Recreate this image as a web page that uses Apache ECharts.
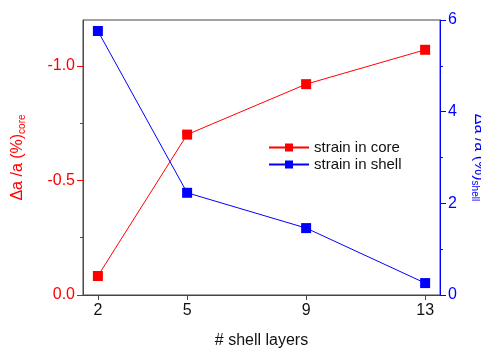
<!DOCTYPE html>
<html><head><meta charset="utf-8">
<script src="https://cdn.jsdelivr.net/npm/echarts@6/dist/echarts.min.js"></script>
<style>html,body{margin:0;padding:0;background:#fff}#c{width:481px;height:352px}</style>
</head><body><div id="c"></div>
<script>
const shellLayers = [2, 5, 9, 13];
const strainCore = [-0.083, -0.70, -0.92, -1.07];
const strainShell = [5.76, 2.23, 1.46, 0.26];
const xTicks = [2, 5, 9, 13];
const coreTicks = [-1.0, -0.5, 0.0];
const coreMinorTicks = [-0.75, -0.25];

const chart = echarts.init(document.getElementById('c'));
const F = 'Liberation Sans, Arial, sans-serif';
chart.setOption({
  animation: false,
  grid: {left: 83, right: 41, top: 20, bottom: 57, show: true, borderColor: '#444', borderWidth: 1,
         containLabel: false, outerBoundsMode: 'none'},
  legend: {
    left: 263, top: 135, orient: 'vertical', itemGap: 2, itemWidth: 40, itemHeight: 10,
    textStyle: {fontFamily: F, fontSize: 15, color: '#111'},
    data: ['strain in core', 'strain in shell']
  },
  xAxis: {
    type: 'value', min: 1.5, max: 13.5,
    name: '# shell layers', nameLocation: 'middle', nameGap: 38,
    nameTextStyle: {fontFamily: F, fontSize: 16, color: '#111'},
    axisLine: {show: true, lineStyle: {color: '#444'}},
    axisTick: {show: true, length: 5, customValues: xTicks, lineStyle: {color: '#444'}},
    axisLabel: {customValues: xTicks, fontFamily: F, fontSize: 16, color: '#111', margin: 8},
    splitLine: {show: false}
  },
  yAxis: [{
    type: 'value', min: -1.2, max: 0, inverse: true, position: 'left',
    name: '{m|Δa /a (%)}{s|core}', nameLocation: 'middle', nameGap: 56,
    nameTextStyle: {color: 'red', rich: {
      m: {fontFamily: F, fontSize: 16, color: 'red'},
      s: {fontFamily: F, fontSize: 10, color: 'red', verticalAlign: 'bottom', padding: [8, 0, 0, 0]}
    }},
    axisLine: {show: true, onZero: false, lineStyle: {color: 'red'}},
    axisTick: {show: true, length: 6, customValues: coreTicks, lineStyle: {color: 'red'}},
    axisLabel: {customValues: coreTicks, fontFamily: F, fontSize: 16, color: 'red', margin: 8,
      formatter: v => (Math.abs(v) < 1e-9 ? '0.0' : v.toFixed(1))},
    splitLine: {show: false}
  }, {
    type: 'value', min: 0, max: 6, interval: 2, position: 'right',
    name: '{m|Δa /a (%)}{s|shell}', nameLocation: 'middle', nameGap: 30, nameRotate: -90,
    nameTextStyle: {color: 'blue', rich: {
      m: {fontFamily: F, fontSize: 16, color: 'blue'},
      s: {fontFamily: F, fontSize: 10, color: 'blue', verticalAlign: 'bottom', padding: [8, 0, 0, 0]}
    }},
    axisLine: {show: true, onZero: false, lineStyle: {color: 'blue'}},
    axisTick: {show: true, length: 6, lineStyle: {color: 'blue'}},
    minorTick: {show: true, splitNumber: 2, length: 3, lineStyle: {color: 'blue'}},
    axisLabel: {fontFamily: F, fontSize: 16, color: 'blue', margin: 8},
    splitLine: {show: false}
  }, {
    type: 'value', min: -1.2, max: 0, inverse: true, position: 'left',
    axisLine: {show: false, onZero: false},
    axisTick: {show: true, length: 3, customValues: coreMinorTicks, lineStyle: {color: 'red'}},
    axisLabel: {show: false},
    splitLine: {show: false}
  }],
  series: [{
    name: 'strain in core', type: 'line', yAxisIndex: 0,
    data: shellLayers.map((x, i) => [x, strainCore[i]]),
    symbol: 'rect', symbolSize: 10,
    lineStyle: {color: 'red', width: 1}, itemStyle: {color: 'red'}
  }, {
    name: 'strain in shell', type: 'line', yAxisIndex: 1,
    data: shellLayers.map((x, i) => [x, strainShell[i]]),
    symbol: 'rect', symbolSize: 10,
    lineStyle: {color: 'blue', width: 1}, itemStyle: {color: 'blue'}
  }]
});
</script></body></html>
